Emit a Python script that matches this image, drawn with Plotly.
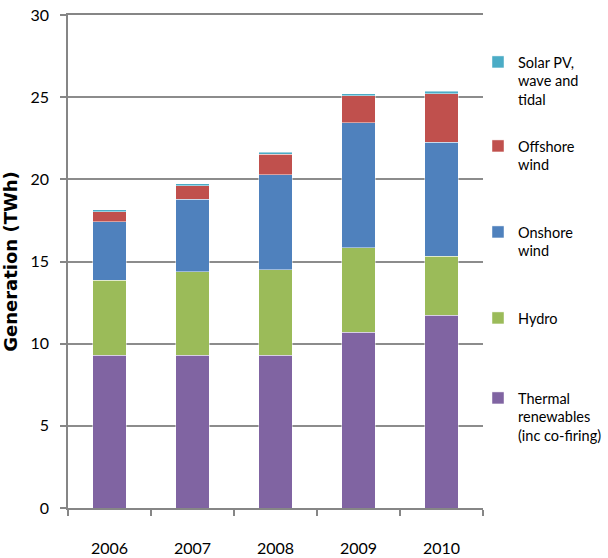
import plotly.graph_objects as go

years = ["2006", "2007", "2008", "2009", "2010"]
thermal = [9.30, 9.30, 9.30, 10.70, 11.73]
hydro = [4.55, 5.08, 5.20, 5.14, 3.60]
onshore = [3.58, 4.41, 5.78, 7.60, 6.94]
offshore = [0.61, 0.83, 1.24, 1.64, 2.93]
solar = [0.12, 0.12, 0.12, 0.14, 0.15]
y_ticks = [0, 5, 10, 15, 20, 25, 30]

series = [
    ("Thermal<br>renewables<br>(inc co-firing)", thermal, "#8064A2", "legend5"),
    ("Hydro", hydro, "#9BBB59", "legend4"),
    ("Onshore<br>wind", onshore, "#4F81BD", "legend3"),
    ("Offshore<br>wind", offshore, "#C0504D", "legend2"),
    ("Solar PV,<br>wave and<br>tidal", solar, "#4BACC6", "legend"),
]

fig = go.Figure()
for name, vals, color, leg in series:
    fig.add_trace(go.Bar(
        x=years, y=vals, name=name, legend=leg, showlegend=True,
        marker=dict(color=color, line=dict(color="rgba(255,255,255,0.45)", width=1)),
    ))

W, HGT = 608, 558
PLOT_LEFT, PLOT_RIGHT = 68, 483
PLOT_TOP, PLOT_BOTTOM = 15, 508
H = PLOT_BOTTOM - PLOT_TOP
PW = PLOT_RIGHT - PLOT_LEFT

def py(px):
    return (PLOT_BOTTOM - px) / H

LEG_X = (478 - PLOT_LEFT) / PW

legfont = dict(family="Lato, sans-serif", size=14.5, color="#000000")
def legend_at(px_top):
    return dict(x=LEG_X, xanchor="left", y=py(px_top), yanchor="top",
                font=legfont, valign="top", bgcolor="rgba(0,0,0,0)",
                itemwidth=30, tracegroupgap=0, visible=True)

fig.update_layout(
    barmode="stack",
    bargap=0.6,
    width=W, height=HGT,
    showlegend=True,
    margin=dict(l=PLOT_LEFT, r=W - PLOT_RIGHT, t=PLOT_TOP, b=HGT - PLOT_BOTTOM, autoexpand=False),
    paper_bgcolor="white", plot_bgcolor="white",
    font=dict(family="Lato, sans-serif", size=16, color="#000000"),
    legend=legend_at(46),
    legend2=legend_at(130),
    legend3=legend_at(216),
    legend4=legend_at(302),
    legend5=legend_at(382),
    xaxis=dict(
        showline=True, mirror=True, linecolor="#868686", linewidth=1.5,
        ticks="outside", tickson="boundaries", ticklen=6, tickcolor="#868686", tickwidth=1.5,
        ticklabelstandoff=25,
        tickfont=dict(family="Lato, sans-serif", size=16),
        showgrid=False,
    ),
    yaxis=dict(
        range=[0, 30], tickmode="array", tickvals=y_ticks,
        showline=True, linecolor="#868686", linewidth=1.5,
        ticks="outside", ticklen=6, tickcolor="#868686", tickwidth=1.5,
        showgrid=True, gridcolor="#8c8c8c", gridwidth=1.5,
        zeroline=False,
        ticklabelstandoff=8, ticklabeloverflow="allow",
        tickfont=dict(family="Lato, sans-serif", size=16),
        title=dict(text="<b>Generation (TWh)</b>", standoff=10,
                   font=dict(family="DejaVu Sans, sans-serif", size=18)),
    ),
)

fig.write_html("out.html", config={"displayModeBar": False},
               post_script="document.body.style.margin='0px';")
